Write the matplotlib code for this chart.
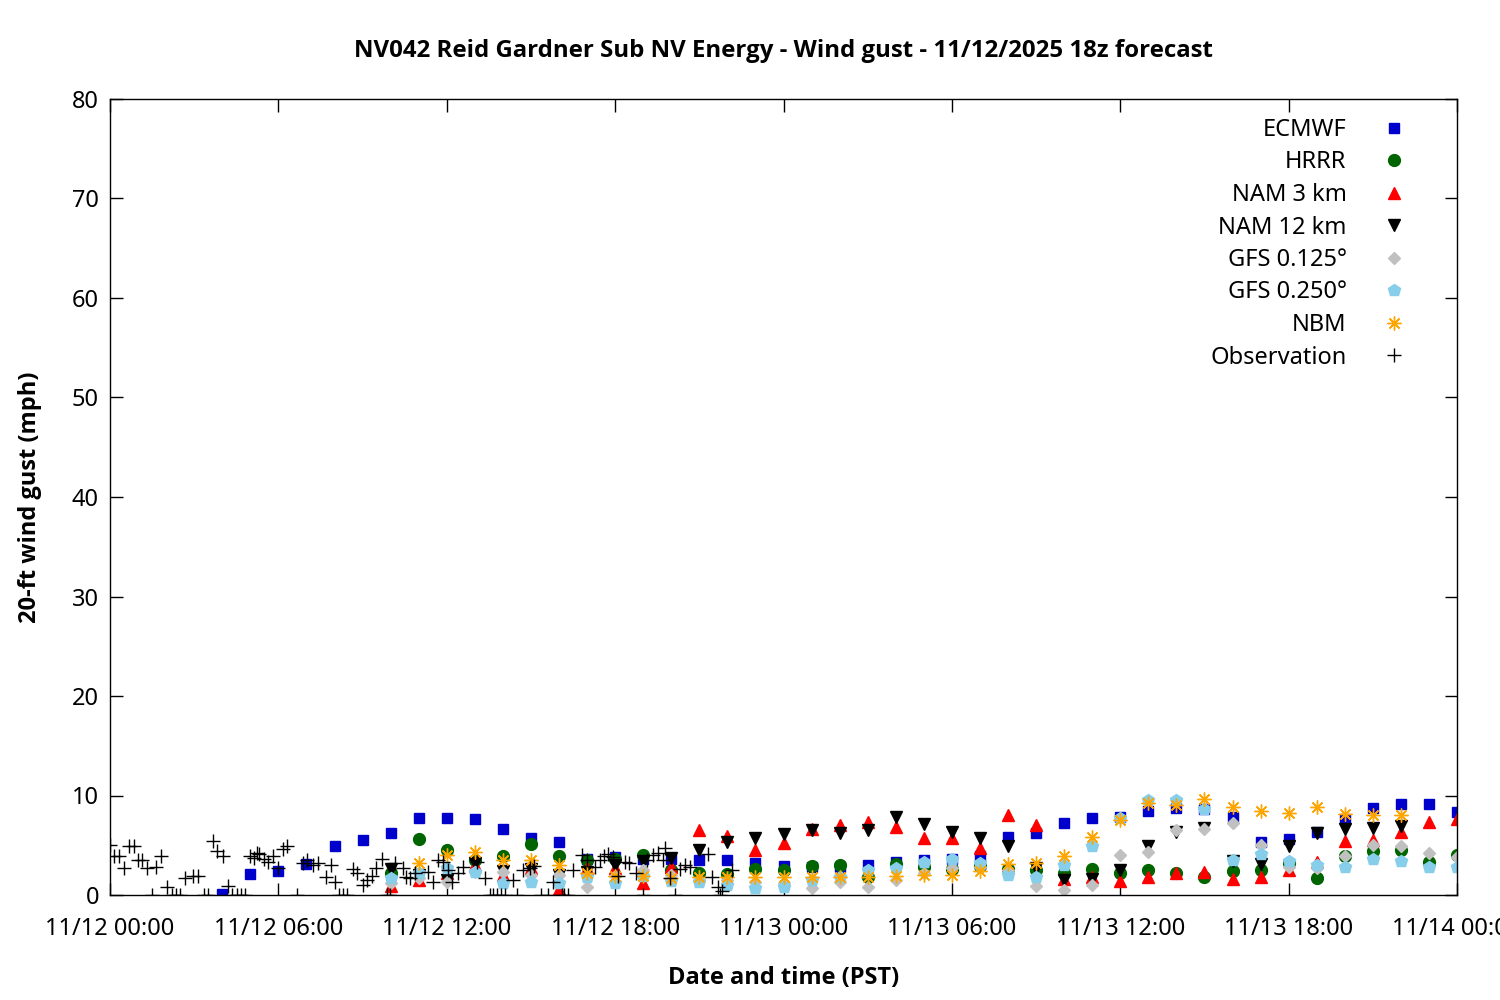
import matplotlib
matplotlib.use("Agg")
import matplotlib.pyplot as plt
import numpy as np

plt.rcParams['font.family'] = ['Noto Sans', 'DejaVu Sans']

title = "NV042 Reid Gardner Sub NV Energy - Wind gust - 11/12/2025 18z forecast"
xlabel = "Date and time (PST)"
ylabel = "20-ft wind gust (mph)"
xtick_labels = ["11/12 00:00", "11/12 06:00", "11/12 12:00", "11/12 18:00",
                "11/13 00:00", "11/13 06:00", "11/13 12:00", "11/13 18:00", "11/14 00:00"]

# Hours after 11/12 00:00 PST
ecmwf_hours = list(range(4, 49))
ecmwf = [0.1, 2.1, 2.4, 3.1, 4.9, 5.5, 6.2, 7.7, 7.7, 7.6, 6.6, 5.7, 5.3, 3.6, 3.8,
         3.6, 3.6, 3.5, 3.5, 3.2, 2.9, 2.8, 2.8, 3.0, 3.3, 3.5, 3.6, 3.9, 5.8, 6.2,
         7.2, 7.7, 7.8, 8.4, 8.7, 8.6, 7.8, 5.3, 5.6, 6.3, 7.6, 8.7, 9.1, 9.1, 8.3]

hrrr_hours = list(range(10, 49))
hrrr = [2.2, 5.6, 4.5, 3.5, 3.9, 5.1, 3.9, 3.5, 3.6, 4.0, 2.5, 2.2, 2.1, 2.6, 2.5,
        2.9, 3.0, 1.8, 3.1, 2.8, 2.6, 2.9, 2.6, 2.5, 2.2, 2.6, 2.2, 2.5, 2.2, 1.8,
        2.4, 2.5, 3.2, 1.7, 3.9, 4.4, 4.5, 3.3, 4.0]

nam3_hours = list(range(10, 49))
nam3 = [0.9, 1.5, 2.2, 3.0, 2.0, 2.7, 0.6, 2.7, 2.7, 1.2, 2.8, 6.5, 5.9, 4.5, 5.2,
        6.6, 7.0, 7.3, 6.8, 5.7, 5.7, 4.7, 8.0, 7.0, 1.6, 1.8, 1.4, 1.8, 2.2, 2.3,
        1.6, 1.8, 2.5, 3.3, 5.4, 5.5, 6.3, 7.3, 7.6]

nam12_hours = list(range(10, 47))
nam12 = [2.6, 2.0, 1.5, 3.2, 2.4, 2.6, 2.0, 2.3, 3.0, 3.4, 3.7, 4.5, 5.3, 5.7, 6.1,
         6.5, 6.2, 6.5, 7.8, 7.1, 6.3, 5.7, 4.9, 2.7, 1.5, 1.6, 2.5, 4.9, 6.3, 6.7,
         3.4, 3.1, 4.9, 6.2, 6.6, 6.7, 6.9]

gfs0125_hours = list(range(10, 49))
gfs0125 = [1.2, 1.7, 1.3, 2.3, 2.3, 2.0, 2.0, 0.8, 1.9, 2.5, 2.0, 1.5, 1.5, 1.3, 1.2,
           0.7, 1.3, 0.8, 1.5, 2.2, 2.7, 2.8, 2.5, 0.9, 0.5, 1.0, 4.0, 4.3, 6.5, 6.6,
           7.2, 5.0, 2.8, 2.7, 3.9, 5.0, 4.9, 4.2, 3.8]

gfs0250_hours = list(range(10, 49))
gfs0250 = [1.7, 2.2, 2.7, 2.3, 1.2, 1.3, 1.2, 1.8, 1.2, 1.9, 1.4, 1.3, 1.0, 0.7, 0.8,
           1.5, 1.8, 2.5, 2.7, 3.3, 3.6, 3.2, 2.0, 1.8, 3.0, 4.9, 7.7, 9.5, 9.5, 8.6,
           3.5, 4.1, 3.4, 3.0, 2.8, 3.6, 3.4, 2.8, 2.8]

nbm_hours = list(range(11, 47))
nbm = [3.2, 4.0, 4.3, 3.5, 3.5, 3.0, 2.2, 1.9, 1.9, 1.7, 1.8, 1.8, 1.8, 1.8, 1.8,
       1.8, 1.8, 1.9, 2.0, 2.0, 2.4, 3.1, 3.2, 3.9, 5.8, 7.5, 9.2, 9.0, 9.6, 8.8,
       8.4, 8.2, 8.8, 8.1, 8.0, 8.0]

obs_hours = [0.00, 0.14, 0.33, 0.50, 0.69, 0.86, 1.01, 1.13, 1.33, 1.51, 1.64, 1.82,
             2.02, 2.20, 2.35, 2.49, 2.67, 2.95, 3.15, 3.35, 3.48, 3.68, 3.80, 4.02,
             4.19, 4.34, 4.52, 4.67, 4.82, 4.99, 5.14, 5.25, 5.32, 5.49, 5.64, 5.82,
             6.00, 6.18, 6.32, 6.67, 6.89, 7.03, 7.25, 7.42, 7.70, 7.88, 8.02, 8.17,
             8.31, 8.46, 8.67, 8.81, 9.03, 9.15, 9.33, 9.48, 9.68, 9.86, 9.98, 10.16,
             10.43, 10.55, 10.69, 10.87, 11.34, 11.50, 11.70, 11.88, 12.06, 12.18,
             12.41, 12.59, 13.07, 13.36, 13.54, 13.66, 13.78, 13.92, 14.08, 14.37,
             14.51, 14.73, 14.97, 15.11, 15.35, 15.62, 15.80, 16.10, 16.19, 16.33,
             16.51, 16.81, 16.99, 17.28, 17.46, 17.61, 17.76, 17.94, 18.11, 18.35,
             18.51, 18.75, 19.01, 19.12, 19.36, 19.54, 19.71, 19.78, 19.96, 20.13,
             20.31, 20.49, 20.67, 21.32, 21.44, 21.68, 21.74, 21.80, 22.16]
obs = [5.0, 3.9, 3.9, 2.7, 4.9, 4.9, 3.5, 3.5, 2.7, 0.0, 2.8, 3.9,
       0.8, 0.0, 0.0, 0.0, 1.7, 1.9, 1.9, 0.0, 0.0, 5.4, 4.4, 3.9,
       0.9, 0.0, 0.0, 0.0, 0.0, 3.9, 3.7, 4.2, 4.1, 3.6, 3.3, 3.9,
       2.7, 4.6, 4.9, 0.0, 3.2, 3.5, 3.0, 3.2, 1.8, 3.0, 1.3, 0.0,
       0.0, 0.0, 2.6, 2.2, 1.0, 1.5, 1.9, 2.7, 3.6, 0.0, 0.0, 3.2,
       2.7, 1.8, 1.7, 2.2, 2.3, 1.3, 3.5, 3.3, 2.5, 1.3,
       2.2, 2.8, 3.3, 1.7, 0.0, 0.0, 0.0, 0.0, 0.0, 1.5,
       0.0, 2.5, 2.7, 2.9, 0.0, 0.0, 1.3, 0.0, 0.0, 0.0,
       2.5, 4.0, 3.5, 2.8, 3.5, 3.9, 4.1, 3.8, 1.9, 3.3,
       3.2, 2.2, 0.0, 3.5, 4.0, 4.2, 3.5, 4.7, 1.7, 0.0,
       2.6, 3.0, 2.8, 4.1, 1.8, 0.8, 0.0, 0.4, 2.5]

FS = 17
BOLD_FAMILY = ['Open Sans', 'Noto Sans', 'DejaVu Sans']

fig = plt.figure(figsize=(15, 10), dpi=100)
ax = fig.add_axes([110/1500, 105/1000, (1457-110)/1500, (895-99)/1000])

ax.plot(ecmwf_hours, ecmwf, ls='none', marker='s', ms=7, color='#0000CD', mec='#0000CD', label='ECMWF')
ax.plot(hrrr_hours, hrrr, ls='none', marker='o', ms=8.5, color='#006400', mec='#006400', label='HRRR')
ax.plot(nam3_hours, nam3, ls='none', marker='^', ms=9, color='#FF0000', mec='#FF0000', label='NAM 3 km')
ax.plot(nam12_hours, nam12, ls='none', marker='v', ms=9, color='black', mec='black', label='NAM 12 km')
ax.plot(gfs0125_hours, gfs0125, ls='none', marker='D', ms=6, color='#C0C0C0', mec='#C0C0C0', label='GFS 0.125°')
ax.plot(gfs0250_hours, gfs0250, ls='none', marker='p', ms=9, color='#87CEEB', mec='#87CEEB', label='GFS 0.250°')
ax.plot(nbm_hours, nbm, ls='none', marker=(8, 2, 0), ms=10, color='#FFA500', mec='#FFA500', mew=1.0, label='NBM')
ax.plot(obs_hours, obs, ls='none', marker='+', ms=10, color='black', mec='black', mew=1.0, label='Observation')

ax.set_xlim(0, 48)
ax.set_ylim(0, 80)
ax.set_xticks(np.arange(0, 49, 6))
ax.set_xticklabels(xtick_labels)
ax.set_yticks(np.arange(0, 81, 10))
ax.tick_params(axis='both', which='major', direction='in', length=9, width=1,
               top=True, right=True, labelsize=FS, pad=8)
ax.tick_params(axis='x', pad=16)
for s in ax.spines.values():
    s.set_linewidth(1.0)
    s.set_color('black')

fig.text(783.5/1500, 1 - 51/1000, title, ha='center', va='center', fontsize=17.3,
         fontweight='bold', family=BOLD_FAMILY)
fig.text(783.5/1500, 1 - 978/1000, xlabel, ha='center', va='center', fontsize=FS,
         fontweight='bold', family=BOLD_FAMILY)
fig.text(30/1500, 1 - 497/1000, ylabel, ha='center', va='center', rotation=90, fontsize=FS,
         fontweight='bold', family=BOLD_FAMILY)

leg = ax.legend(loc='upper right', bbox_to_anchor=(1408/1500, 1 - 118/1000), bbox_transform=fig.transFigure,
                markerfirst=False, frameon=False, fontsize=FS, labelspacing=0.36,
                handletextpad=1.4, handlelength=1.2, borderaxespad=0, borderpad=0)

fig.savefig('out.png', dpi=100)
